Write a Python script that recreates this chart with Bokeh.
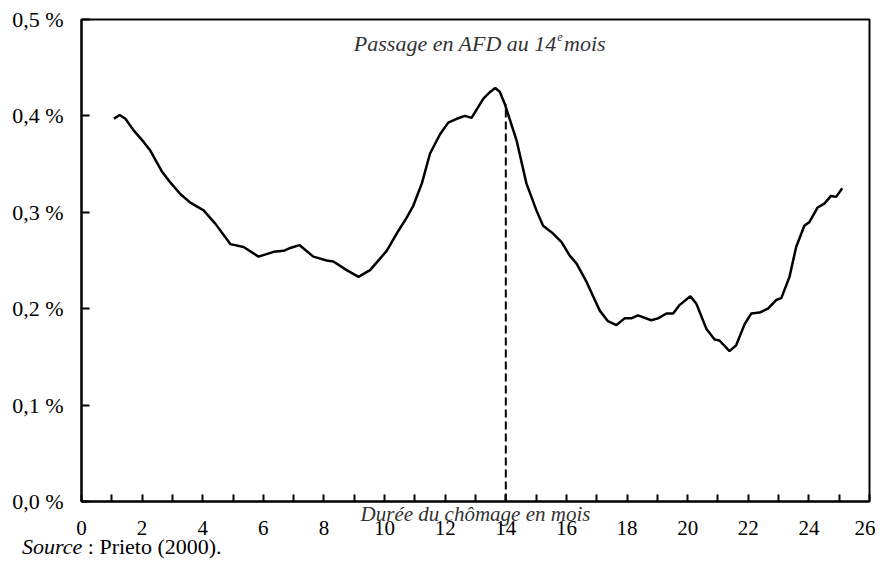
from bokeh.plotting import figure
from bokeh.models import Label, FixedTicker, Range1d, LinearAxis, Div
from bokeh.layouts import column
from bokeh.embed import file_html
from bokeh.resources import INLINE

# ---- data ----
duree = [1.07, 1.26, 1.45, 1.72, 2.05, 2.27, 2.66, 2.93, 3.26, 3.59, 4.03, 4.42, 4.91,
         5.35, 5.84, 6.34, 6.67, 6.89, 7.19, 7.65, 8.09, 8.31, 8.75, 9.14, 9.52, 9.85,
         10.07, 10.40, 10.72, 10.95, 11.23, 11.50, 11.83, 12.10, 12.38, 12.65, 12.87,
         13.26, 13.45, 13.65, 13.80, 13.97, 14.36, 14.68, 15.01, 15.23, 15.56, 15.84,
         16.11, 16.33, 16.66, 17.10, 17.37, 17.65, 17.92, 18.14, 18.36, 18.80, 19.02,
         19.30, 19.52, 19.74, 20.09, 20.29, 20.62, 20.89, 21.05, 21.38, 21.60, 21.88,
         22.10, 22.37, 22.65, 22.92, 23.09, 23.36, 23.58, 23.85, 24.02, 24.29, 24.51,
         24.73, 24.90, 25.10]
taux = [0.397, 0.401, 0.397, 0.385, 0.373, 0.364, 0.342, 0.331, 0.319, 0.310, 0.302,
        0.288, 0.267, 0.264, 0.254, 0.259, 0.260, 0.263, 0.266, 0.254, 0.250, 0.249,
        0.240, 0.233, 0.240, 0.252, 0.260, 0.278, 0.294, 0.307, 0.330, 0.361, 0.381,
        0.393, 0.397, 0.400, 0.398, 0.418, 0.424, 0.429, 0.425, 0.412, 0.374, 0.330,
        0.302, 0.286, 0.278, 0.269, 0.255, 0.247, 0.228, 0.198, 0.187, 0.183, 0.190,
        0.190, 0.193, 0.188, 0.190, 0.195, 0.195, 0.204, 0.213, 0.205, 0.179, 0.168,
        0.167, 0.156, 0.162, 0.184, 0.195, 0.196, 0.200, 0.209, 0.211, 0.233, 0.264,
        0.286, 0.290, 0.305, 0.309, 0.317, 0.316, 0.325]
passage_mois = 14
passage_taux = 0.412

x_tick_marks = list(range(0, 27))
x_label_ticks = [0, 2, 4, 6, 8, 10, 12, 14, 16, 18, 20, 22, 24, 26]
x_tick_labels = ["0", "2", "4", "6", "8", "10", "12", "14", "16", "18", "20", "22",
                 "24", "26"]
y_ticks = [0.0, 0.1, 0.2, 0.3, 0.4, 0.5]
y_tick_labels = ["0,0 %", "0,1 %", "0,2 %", "0,3 %", "0,4 %", "0,5 %"]

titre = "Passage en AFD au 14"
titre_exp = "e"
titre_fin = "mois"
x_titre = "Durée du chômage en mois"
source_it = "Source"
source_txt = " : Prieto (2000)."

SERIF = "'Liberation Serif', 'Times New Roman', serif"

p = figure(width=875, height=545, output_backend="svg", toolbar_location=None,
           x_range=Range1d(0, 26), y_range=Range1d(0, 0.5),
           min_border_left=81, min_border_right=6, min_border_top=19,
           min_border_bottom=44)
p.grid.visible = False
p.outline_line_color = "black"
p.outline_line_width = 2
p.background_fill_color = "white"
p.border_fill_color = "white"
p.title.visible = False

# axis 1 (at the frame): line, inner tick marks (as minor ticks) and the axis title
ax1 = p.xaxis[0]
ax1.ticker = FixedTicker(ticks=[], minor_ticks=x_tick_marks)
ax1.axis_line_width = 2
ax1.axis_line_color = "black"
ax1.major_tick_line_color = None
ax1.minor_tick_line_color = "black"
ax1.minor_tick_line_width = 2
ax1.minor_tick_in = 7
ax1.minor_tick_out = 0
ax1.major_label_standoff = 0
ax1.axis_label = x_titre
ax1.axis_label_text_font = SERIF
ax1.axis_label_text_font_style = "italic"
ax1.axis_label_text_font_size = "21px"
ax1.axis_label_text_color = "#333333"
ax1.axis_label_standoff = 0

# axis 2 (below): tick labels only
ax2 = LinearAxis(ticker=FixedTicker(ticks=x_label_ticks))
ax2.major_label_overrides = dict(zip(x_label_ticks, x_tick_labels))
ax2.axis_line_color = None
ax2.major_tick_line_color = None
ax2.minor_tick_line_color = None
ax2.major_label_text_font = SERIF
ax2.major_label_text_font_size = "21px"
ax2.major_label_text_color = "black"
ax2.major_label_standoff = -14
p.add_layout(ax2, "below")

ay = p.yaxis[0]
ay.ticker = FixedTicker(ticks=y_ticks)
ay.major_label_overrides = dict(zip(y_ticks, y_tick_labels))
ay.axis_line_width = 2
ay.axis_line_color = "black"
ay.major_tick_line_width = 2
ay.major_tick_in = 8
ay.major_tick_out = 0
ay.minor_tick_line_color = None
ay.major_label_standoff = 18
ay.major_label_text_font = SERIF
ay.major_label_text_font_size = "22px"
ay.major_label_text_color = "black"

p.segment(x0=[passage_mois], y0=[0], x1=[passage_mois], y1=[passage_taux],
          line_color="black", line_width=2, line_dash="8 4")
p.line(duree, taux, line_color="black", line_width=2.5)

# title pieces
p.add_layout(Label(x=15.68, y=0.475, text=titre, text_align="right",
                   text_baseline="alphabetic", text_font=SERIF, text_font_style="italic",
                   text_font_size="22px", text_color="#333333"))
p.add_layout(Label(x=15.70, y=0.482, text=titre_exp, text_align="left",
                   text_baseline="alphabetic", text_font=SERIF, text_font_style="italic",
                   text_font_size="12px", text_color="#333333"))
p.add_layout(Label(x=15.92, y=0.475, text=titre_fin, text_align="left",
                   text_baseline="alphabetic", text_font=SERIF, text_font_style="italic",
                   text_font_size="22px", text_color="#333333"))

source = Div(text="<i>%s</i>%s" % (source_it, source_txt), width=400, height=24,
             styles={"font-family": "'Liberation Serif', 'Times New Roman', serif",
                     "font-size": "22px", "line-height": "22px", "color": "black",
                     "margin-left": "22px", "margin-top": "-9px"})

layout = column(p, source, spacing=0)
open("out.html", "w").write(file_html(layout, INLINE))
